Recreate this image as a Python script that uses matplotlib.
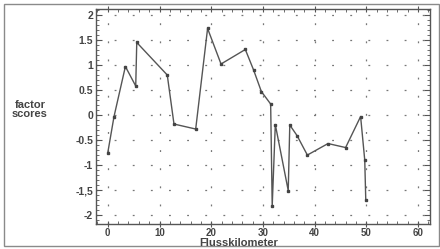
import matplotlib
matplotlib.use("Agg")
import matplotlib.pyplot as plt
from matplotlib.patches import Rectangle
from matplotlib.ticker import MultipleLocator

# Flusskilometer / factor scores
km = [0, 1.2, 3.4, 5.4, 5.6, 11.5, 12.8, 17.0, 19.3, 21.9, 26.6, 28.2, 29.7, 31.5,
      31.8, 32.4, 34.9, 35.2, 36.6, 38.6, 42.6, 46.0, 48.9, 49.7, 49.9]
scores = [-0.75, -0.03, 0.97, 0.58, 1.45, 0.8, -0.18, -0.28, 1.73, 1.02, 1.31, 0.9, 0.47, 0.22,
          -1.82, -0.19, -1.51, -0.2, -0.41, -0.8, -0.57, -0.65, -0.03, -0.9, -1.7]

xticks = [0, 10, 20, 30, 40, 50, 60]
yticks = [-2, -1.5, -1, -0.5, 0, 0.5, 1, 1.5, 2]
ytick_labels = ["-2", "-1,5", "-1", "-0.5", "0", "0.5", "1", "1.5", "2"]

plt.rcParams['font.family'] = ['Liberation Sans', 'DejaVu Sans']
plt.rcParams['font.weight'] = 'bold'

fig = plt.figure(figsize=(4.4, 2.49), dpi=100)
ax = fig.add_axes([0.218, 0.100, 0.759, 0.864])

# Rahmen um die ganze Abbildung
fig.patches.append(Rectangle((0.008, 0.012), 0.989, 0.970, transform=fig.transFigure,
                             fill=False, edgecolor='#8a8a8a', linewidth=1.0))

ax.plot(km, scores, color='#555555', linewidth=1.0, marker='s', markersize=2,
        markerfacecolor='#444444', markeredgecolor='#444444')

ax.set_xlim(-2.3, 62.3)
ax.set_ylim(-2.18, 2.12)
ax.set_xticks(xticks)
ax.set_yticks(yticks)
ax.set_yticklabels(ytick_labels)
ax.yaxis.set_minor_locator(MultipleLocator(0.1))
ax.xaxis.set_minor_locator(MultipleLocator(2))
ax.tick_params(which='both', direction='in', top=True, right=True,
               labelsize=7.5, color='#555555', labelcolor='#444444', pad=2)
ax.tick_params(which='major', length=4, width=0.8)
ax.tick_params(which='minor', length=2, width=0.6)
ax.tick_params(axis='x', which='major', direction='inout', length=5, pad=0, labelsize=7)
for s in ax.spines.values():
    s.set_color('#555555')
    s.set_linewidth(1.0)

ax.grid(True, which='major', color='#777777', linestyle=(0, (1.5, 13)), linewidth=0.9)

fig.text(0.542, 0.026, "Flusskilometer", fontsize=8, fontweight='bold', color='#444444',
         ha='center', va='center')
fig.text(0.068, 0.56, "factor\nscores", fontsize=8, fontweight='bold', color='#444444',
         ha='center', va='center', linespacing=0.9)

plt.savefig("out.png", dpi=100)
